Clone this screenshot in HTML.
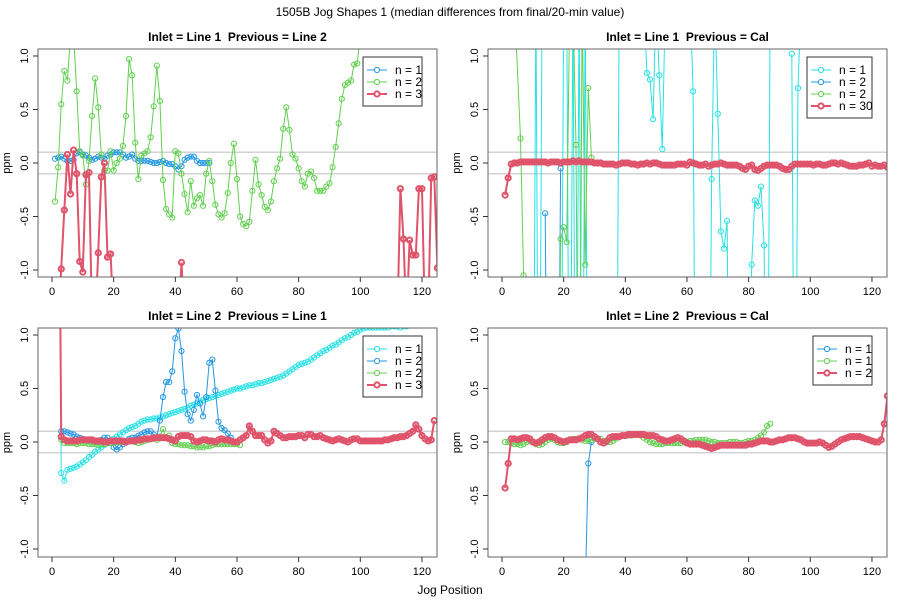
<!DOCTYPE html>
<html><head><meta charset="utf-8"><style>
html,body{margin:0;padding:0;background:#fff;width:900px;height:600px;overflow:hidden;}
svg{display:block;font-family:"Liberation Sans",Arial,sans-serif;}
text{white-space:pre;}
</style></head><body>
<svg id="chart" width="900" height="600" viewBox="0 0 900 600">
<text x="450" y="594" text-anchor="middle" font-size="12" fill="#000">Jog Position</text>
<text x="450" y="16" text-anchor="middle" font-size="12" fill="#000">1505B Jog Shapes 1 (median differences from final/20-min value)</text>
</svg>
<script>
// ---- data ----
const xTicks=[0,20,40,60,80,100,120];
const yTicks=[-1.0,-0.5,0.0,0.5,1.0];
const yTickLabels=["-1.0","-0.5","0.0","0.5","1.0"];
// panel 1 (Inlet = Line 1, Previous = Line 2)
const p1Blue=[0.04,0.05,0.06,0.04,0.02,0.02,0.03,0.09,0.1,0.08,0.07,0.05,0.03,0.04,0.06,0.05,0.04,0.07,0.08,0.1,0.1,0.1,0.08,0.05,0.06,0.08,0.04,0.02,0.02,0.02,0.02,0.01,0.0,0.0,0.01,0.02,0.0,-0.01,-0.01,-0.03,-0.06,-0.03,0.03,0.05,0.06,0.06,0.02,0.0,0.0,0.0,0.0];
const p1Green=[-0.36,-0.04,0.55,0.86,0.77,1.2,1.2,0.67,0.11,0.07,-0.2,0.02,0.44,0.79,0.52,0.08,-0.07,-0.07,0.11,-0.07,0.0,0.04,0.16,0.44,0.97,0.82,0.19,-0.15,0.07,0.09,0.11,0.24,0.53,0.91,0.58,-0.16,-0.43,-0.48,-0.51,0.11,0.09,-0.1,-0.29,-0.46,-0.17,-0.4,-0.33,-0.3,-0.4,-0.1,0.02,-0.17,-0.39,-0.48,-0.51,-0.47,-0.28,0.0,0.18,-0.15,-0.5,-0.57,-0.59,-0.55,-0.26,0.03,-0.2,-0.3,-0.41,-0.44,-0.36,-0.17,-0.05,0.04,0.32,0.52,0.31,0.08,0.04,-0.05,-0.17,-0.22,-0.1,-0.08,-0.14,-0.26,-0.26,-0.26,-0.22,-0.19,-0.04,0.15,0.37,0.6,0.73,0.75,0.77,0.92,0.93,1.2];
const p1Red=[-1.5,-1.5,-0.99,-0.44,0.08,-0.29,0.12,-0.1,-0.92,-1.02,-0.11,-0.09,-1.5,-1.5,-0.84,-0.13,0.0,-0.88,-0.85,-1.5,-1.5,-1.5,-1.5,-1.5,-1.5,-1.5,-1.5,-1.5,-1.5,-1.5,-1.5,-1.5,-1.5,-1.5,-1.5,-1.5,-1.5,-1.5,-1.5,-1.5,-1.5,-0.93,-1.5,null,null,null,null,null,null,null,null,null,null,null,null,null,null,null,null,null,null,null,null,null,null,null,null,null,null,null,null,null,null,null,null,null,null,null,null,null,null,null,null,null,null,null,null,null,null,null,null,null,null,null,null,null,null,null,null,null,null,null,null,null,null,null,null,null,null,null,null,-1.5,-0.24,-0.71,-1.5,-0.72,-0.86,-0.86,-0.24,-0.24,-1.5,-1.5,-0.14,-0.13,-0.98];
// panel 2 (Inlet = Line 1, Previous = Cal)
const p2CyanX=[10,11,12,13,null,19,20,21,22,23,24,25,26,27,28,null,37,38,null,46,47,48,49,50,51,52,53,null,61,62,63,null,67,68,69,70,71,72,73,74,null,80,81,82,83,84,85,86,87,null,94,95,96,97];
const p2CyanY=[-5,5,-5,5,null,-5,5,5,-5,5,-5,5,-5,5,-5,null,-5,5,null,5,0.84,0.78,0.41,5,0.82,0.13,5,null,5,0.67,-5,null,-5,-0.15,5,0.46,-0.64,-0.8,-0.54,-5,null,-5,-0.95,-0.35,-0.4,-0.22,-0.77,-5,5,null,1.02,-5,0.7,5];
const p2BlueX=[14,15,null,18,19];
const p2BlueY=[-0.47,-5,null,-5,-0.05];
const p2GreenX=[4,6,7,8,null,18,19,20,21,22,23,24,25,26,27,28,29];
const p2GreenY=[5,0.23,-1.05,-5,null,-5,-0.71,-0.6,-0.74,5,5,0.17,-5,5,-0.95,0.7,0.05];
const p2Red=[-0.30,-0.14,-0.01,0.0,0.0,0.01,0.01,0.01,0.01,0.01,0.01,0.01,0.01,0.01,0.0,0.01,0.01,0.01,0.0,0.01,0.01,0.01,0.02,0.01,0.02,0.01,0.01,0.01,0.01,0.0,0.0,0.0,-0.01,-0.01,-0.01,-0.01,-0.02,-0.01,0.0,0.0,0.0,-0.01,-0.01,-0.02,-0.01,-0.01,0.0,-0.01,0.0,0.0,-0.01,-0.02,-0.02,-0.02,-0.02,-0.02,-0.01,-0.01,-0.01,-0.02,0.01,0.0,-0.01,-0.02,-0.02,-0.01,-0.03,-0.02,-0.01,-0.01,0.0,-0.01,-0.02,-0.02,-0.02,-0.02,-0.03,-0.05,-0.06,-0.03,-0.02,-0.06,-0.07,-0.05,-0.03,-0.02,-0.02,-0.02,-0.02,-0.03,-0.05,-0.06,-0.06,-0.03,-0.01,-0.01,-0.01,-0.01,-0.01,-0.01,-0.02,-0.01,-0.01,-0.02,-0.02,-0.01,0.0,0.0,-0.01,0.0,-0.01,-0.02,-0.03,-0.03,-0.03,-0.02,-0.02,-0.01,0.0,-0.03,-0.02,-0.03,-0.03,-0.02,-0.04];
// panel 3 (Inlet = Line 2, Previous = Line 1)
const p3Cyan=[null,5,-0.29,-0.36,-0.26,-0.25,-0.24,-0.23,-0.21,-0.19,-0.17,-0.14,-0.12,-0.09,-0.07,-0.05,-0.03,-0.01,0.01,0.03,0.05,0.07,0.09,0.11,0.13,0.14,0.15,0.17,0.19,0.2,0.21,0.21,0.22,0.22,0.23,0.24,0.25,0.26,0.27,0.28,0.29,0.3,0.31,0.32,0.34,0.35,0.36,0.38,0.39,0.4,0.41,0.42,0.43,0.44,0.45,0.46,0.47,0.48,0.49,0.5,0.5,0.51,0.52,0.53,0.53,0.54,0.55,0.55,0.56,0.57,0.58,0.59,0.6,0.61,0.62,0.64,0.66,0.68,0.7,0.72,0.73,0.74,0.75,0.77,0.79,0.81,0.83,0.85,0.86,0.88,0.9,0.91,0.93,0.95,0.97,0.98,1.0,1.02,1.03,1.05,1.06,1.07,1.07,1.07,1.07,1.07,1.07,1.07,1.07,1.08,1.08,1.08,1.07,1.08,1.08];
const p3Blue=[null,null,0.1,0.1,0.09,0.08,0.07,0.05,0.04,0.03,0.02,0.02,0.01,0.0,0.0,0.02,0.04,0.04,0.01,-0.05,-0.07,-0.05,-0.02,0.01,0.03,0.04,0.04,0.06,0.07,0.09,0.1,0.1,0.07,0.04,0.2,0.42,0.56,0.56,0.66,0.97,1.06,0.85,0.47,0.26,0.2,0.3,0.44,0.36,0.24,0.42,0.74,0.77,0.48,0.19,0.13,0.11,0.08,0.04];
const p3Green=[null,null,0.02,-0.01,-0.01,-0.01,-0.01,-0.02,-0.01,-0.01,-0.01,-0.02,-0.02,-0.02,-0.03,-0.02,-0.02,-0.01,-0.01,-0.01,0.0,0.0,0.0,0.0,0.01,0.01,0.0,-0.01,0.0,0.01,0.02,0.03,0.03,0.02,0.05,0.12,0.04,0.06,-0.01,-0.02,-0.02,-0.03,-0.03,-0.03,-0.04,-0.04,-0.05,-0.05,-0.05,-0.04,-0.04,-0.03,-0.02,-0.02,-0.02,-0.02,-0.02,-0.02,-0.02,-0.02,-0.03];
const p3Red=[null,5,0.05,0.02,0.01,0.01,0.01,0.01,0.02,0.02,0.02,0.02,0.02,0.01,0.01,0.01,0.0,0.0,0.01,0.01,0.01,0.01,0.01,0.0,0.01,0.01,0.01,0.02,0.02,0.03,0.03,0.03,0.04,0.04,0.04,0.04,0.04,0.03,0.02,0.01,0.05,0.06,0.06,0.06,0.05,0.01,0.0,0.01,0.02,0.02,0.01,0.01,0.0,0.02,0.03,0.02,0.02,0.01,0.0,0.0,0.02,0.04,0.06,0.15,0.1,0.06,0.06,0.06,0.02,-0.01,0.01,0.1,0.08,0.06,0.04,0.04,0.05,0.05,0.05,0.06,0.06,0.04,0.07,0.07,0.05,0.05,0.06,0.04,0.03,0.02,0.01,0.02,0.03,0.02,0.01,0.0,0.02,0.03,0.03,0.01,0.01,0.01,0.01,0.01,0.01,0.01,0.01,0.02,0.02,0.03,0.04,0.04,0.05,0.05,0.06,0.08,0.1,0.16,0.12,0.06,0.03,0.01,0.02,0.2];
// panel 4 (Inlet = Line 2, Previous = Cal)
const p4BlueX=[27,28,29];
const p4BlueY=[-1.4,-0.2,0.0];
const p4Green=[0.0,0.0,-0.01,-0.02,-0.02,-0.03,-0.02,0.0,0.01,0.0,-0.02,-0.03,-0.02,0.0,0.02,0.03,0.02,0.0,-0.01,-0.01,0.0,0.02,0.03,0.03,0.03,0.02,0.01,0.01,0.02,0.03,0.03,0.03,0.01,0.0,0.0,0.01,0.03,0.05,0.06,0.06,0.06,0.06,0.07,0.07,0.06,0.04,0.02,0.0,-0.01,-0.02,-0.02,-0.02,-0.01,-0.01,-0.01,-0.01,-0.01,-0.01,0.0,0.0,0.01,0.01,0.02,0.02,0.02,0.02,0.01,0.0,0.0,-0.01,-0.01,-0.01,-0.01,0.0,0.0,0.0,-0.01,-0.01,0.0,0.01,0.01,0.02,0.04,0.06,0.09,0.15,0.17];
const p4Red=[-0.43,-0.2,0.03,0.03,0.02,0.03,0.04,0.04,0.03,0.0,-0.01,0.0,0.02,0.04,0.05,0.05,0.04,0.02,0.01,0.0,0.01,0.02,0.02,0.02,0.03,0.04,0.06,0.07,0.07,0.05,0.03,0.0,-0.01,0.01,0.04,0.05,0.05,0.05,0.06,0.06,0.07,0.07,0.07,0.07,0.07,0.07,0.06,0.06,0.06,0.05,0.03,0.02,0.01,0.01,0.02,0.03,0.04,0.03,0.01,-0.01,-0.02,-0.02,-0.02,-0.02,-0.03,-0.04,-0.05,-0.06,-0.05,-0.04,-0.03,-0.03,-0.03,-0.03,-0.03,-0.03,-0.03,-0.03,-0.03,-0.02,-0.02,-0.01,0.0,0.01,0.01,0.01,0.0,0.0,0.01,0.02,0.02,0.03,0.04,0.04,0.04,0.03,0.02,0.0,-0.01,-0.01,-0.01,-0.01,0.0,-0.01,-0.03,-0.05,-0.04,-0.02,0.0,0.02,0.03,0.04,0.05,0.05,0.05,0.05,0.04,0.03,0.02,0.01,0.0,0.0,0.02,0.17,0.43];

// ---- drawing ----
const NS="http://www.w3.org/2000/svg";
const svg=document.getElementById('chart');
const C={cyan:"#28E2E5",blue:"#2297E6",green:"#61D04F",red:"#DF536B"};
function mk(tag,attrs,parent){const e=document.createElementNS(NS,tag);for(const k in attrs)e.setAttribute(k,attrs[k]);(parent||svg).appendChild(e);return e;}
function seq(arr){return arr.map((v,i)=>i+1);}

function panel(id,title,L,T,R,B,y0,series,legend,lg){
  const x0=L+14, xs=3.083, ys=107;
  const X=v=>x0+v*xs;
  // keep far off-scale values inside the page (paths are clipped to the plot box anyway)
  const Y=v=>Math.max(Math.max(0,T-300),Math.min(Math.min(598,B+300),y0-v*ys));
  const g=mk('g',{});
  
  
  const cp=mk('clipPath',{id:'cp-'+id},g);
  mk('rect',{x:L,y:T,width:R-L,height:B-T},cp);
  const t=mk('text',{x:(L+R)/2,y:T-8,'text-anchor':'middle','font-size':12,'font-weight':'bold'},g);
  t.textContent=title;
  
  
  [0.1,-0.1].forEach(v=>{
    const l=mk('line',{x1:L,x2:R,y1:Y(v),y2:Y(v),stroke:'#d3d3d3','stroke-width':1.5},g);
    
    
  });
  const data=mk('g',{'clip-path':'url(#cp-'+id+')'},g);
  series.forEach(s=>{
    const sg=mk('g',{},data);
    
    
    const lw=s.color==='red'?2:1;
    let d='',pen=false;
    for(let i=0;i<s.x.length;i++){
      const xv=s.x[i],yv=s.y[i];
      if(xv==null||yv==null){pen=false;continue;}
      d+=(pen?'L':'M')+X(xv).toFixed(1)+' '+Y(yv).toFixed(1);pen=true;
    }
    mk('path',{d:d,fill:'none',stroke:C[s.color],'stroke-width':lw},sg);
    for(let i=0;i<s.x.length;i++){
      const xv=s.x[i],yv=s.y[i];
      if(xv==null||yv==null||Math.abs(yv)>1.1)continue;
      const c=mk('circle',{cx:X(xv),cy:Y(yv),r:2.6,fill:'none',stroke:C[s.color],'stroke-width':lw},sg);
      
      
    }
  });
  mk('rect',{x:L,y:T,width:R-L,height:B-T,fill:'none',stroke:'#666','stroke-width':1},g);
  const xa=mk('g',{},g);
  
  
  xTicks.forEach(v=>{
    mk('line',{x1:X(v),x2:X(v),y1:B,y2:B+5,stroke:'#333'},xa);
    const tx=mk('text',{x:X(v),y:B+18,'text-anchor':'middle','font-size':11},xa);
    tx.textContent=v;
  });
  const ya=mk('g',{},g);
  
  
  yTicks.forEach((v,i)=>{
    mk('line',{x1:L-5,x2:L,y1:Y(v),y2:Y(v),stroke:'#333'},ya);
    const tx=mk('text',{x:L-10,y:Y(v),'text-anchor':'middle','font-size':11,transform:'rotate(-90 '+(L-10)+' '+Y(v)+')'},ya);
    tx.textContent=yTickLabels[i];
  });
  const yl=mk('text',{x:L-28,y:(T+B)/2,'text-anchor':'middle','font-size':11,transform:'rotate(-90 '+(L-28)+' '+((T+B)/2)+')'},g);
  yl.textContent='ppm';
  
  
  const lgG=mk('g',{},g);
  
  
  mk('rect',{x:lg[0],y:T+8,width:R-15-lg[0],height:legend.length*12+13,fill:'#fff',stroke:'#333'},lgG);
  legend.forEach((e,i)=>{
    const ry=T+21+i*12;
    const en=mk('g',{},lgG);
    
    
    const lw=e[0]==='red'?2:1;
    mk('line',{x1:lg[0]+4,x2:lg[0]+24,y1:ry,y2:ry,stroke:C[e[0]],'stroke-width':lw},en);
    mk('circle',{cx:lg[0]+14,cy:ry,r:2.6,fill:'#fff',stroke:C[e[0]],'stroke-width':lw},en);
    const tx=mk('text',{x:lg[0]+32,y:ry+4,'font-size':12},en);
    tx.textContent=e[1];
  });
}

panel('panel-line1-prev-line2','Inlet = Line 1  Previous = Line 2',38,49,437,277,163,[
  {name:'n1-blue',color:'blue',x:seq(p1Blue),y:p1Blue},
  {name:'n2-green',color:'green',x:seq(p1Green),y:p1Green},
  {name:'n3-red',color:'red',x:seq(p1Red),y:p1Red}
],[['blue','n = 1'],['green','n = 2'],['red','n = 3']],[363]);

panel('panel-line1-prev-cal','Inlet = Line 1  Previous = Cal',488,49,887,277,163,[
  {name:'n1-cyan',color:'cyan',x:p2CyanX,y:p2CyanY},
  {name:'n2-blue',color:'blue',x:p2BlueX,y:p2BlueY},
  {name:'n2-green',color:'green',x:p2GreenX,y:p2GreenY},
  {name:'n30-red',color:'red',x:seq(p2Red),y:p2Red}
],[['cyan','n = 1'],['blue','n = 2'],['green','n = 2'],['red','n = 30']],[807]);

panel('panel-line2-prev-line1','Inlet = Line 2  Previous = Line 1',38,328,437,557,442,[
  {name:'n1-cyan',color:'cyan',x:seq(p3Cyan),y:p3Cyan},
  {name:'n2-blue',color:'blue',x:seq(p3Blue),y:p3Blue},
  {name:'n2-green',color:'green',x:seq(p3Green),y:p3Green},
  {name:'n3-red',color:'red',x:seq(p3Red),y:p3Red}
],[['cyan','n = 1'],['blue','n = 2'],['green','n = 2'],['red','n = 3']],[363]);

panel('panel-line2-prev-cal','Inlet = Line 2  Previous = Cal',488,328,887,557,442,[
  {name:'n1-blue',color:'blue',x:p4BlueX,y:p4BlueY},
  {name:'n1-green',color:'green',x:seq(p4Green),y:p4Green},
  {name:'n2-red',color:'red',x:seq(p4Red),y:p4Red}
],[['blue','n = 1'],['green','n = 1'],['red','n = 2']],[813]);
</script>
</body></html>
